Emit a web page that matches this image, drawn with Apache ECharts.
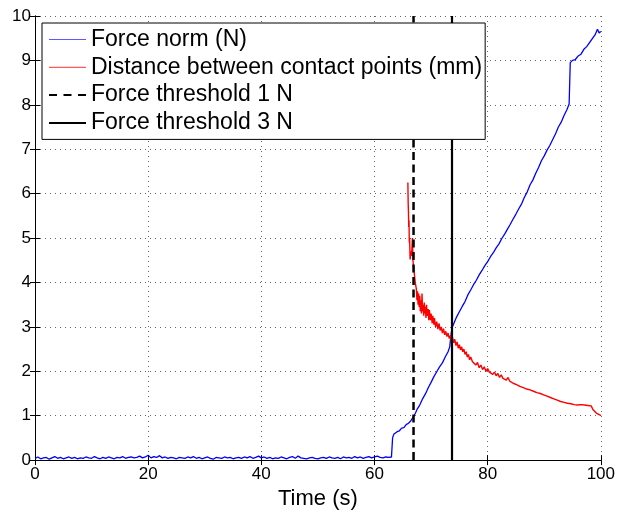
<!DOCTYPE html>
<html>
<head>
<meta charset="utf-8">
<script src="https://cdn.jsdelivr.net/npm/echarts@6/dist/echarts.min.js"></script>
<style>
  html, body { margin: 0; padding: 0; background: #fff; }
  #chart { width: 618px; height: 515px; }
</style>
</head>
<body>
<div id="chart"></div>
<script>
// force norm before contact, one value every 0.5 s (t = 0..62)
var forceFlat = [0.04, 0.07, 0.03, 0.05, 0.06, 0.02, 0.05, 0.08, 0.04, 0.06,
  0.03, 0.05, 0.07, 0.04, 0.06, 0.03, 0.05, 0.04, 0.07, 0.05,
  0.04, 0.08, 0.05, 0.03, 0.06, 0.04, 0.07, 0.05, 0.03, 0.06,
  0.05, 0.08, 0.04, 0.06, 0.07, 0.05, 0.06, 0.09, 0.05, 0.07,
  0.11, 0.05, 0.08, 0.06, 0.1, 0.05, 0.07, 0.04, 0.06, 0.05,
  0.03, 0.06, 0.05, 0.04, 0.07, 0.05, 0.08, 0.04, 0.06, 0.03,
  0.05, 0.07, 0.04, 0.02, 0.06, 0.05, 0.04, 0.07, 0.05, 0.06,
  0.03, 0.05, 0.06, 0.04, 0.07, 0.05, 0.08, 0.04, 0.06, 0.09,
  0.05, 0.07, 0.04, 0.06, 0.03, 0.05, 0.04, 0.07, 0.05, 0.03,
  0.06, 0.08, 0.04, 0.09, 0.05, 0.04, 0.03, 0.05, 0.06, 0.04,
  0.03, 0.05, 0.06, 0.04, 0.07, 0.05, 0.04, 0.06, 0.03, 0.07,
  0.05, 0.06, 0.04, 0.08, 0.05, 0.07, 0.04, 0.06, 0.08, 0.05,
  0.07, 0.09, 0.06, 0.05, 0.07];
var flatStep = 0.5;

// force norm after contact [time, N]
var forceRise = [[62.5, 0.06], [63.0, 0.07], [63.2, 0.5], [63.4, 0.58], [63.7, 0.6], [64.0, 0.64],
  [64.4, 0.66], [64.8, 0.72], [65.2, 0.73], [65.6, 0.8], [66.0, 0.83], [66.4, 0.88], [66.8, 0.96],
  [67.2, 1.05], [67.6, 1.16], [68.0, 1.24], [68.5, 1.38], [69.0, 1.49], [69.5, 1.63], [70.0, 1.75],
  [70.5, 1.88], [71.0, 1.99], [71.5, 2.1], [72.0, 2.19], [72.5, 2.32], [73.0, 2.44], [73.3, 2.55],
  [73.5, 2.8], [73.7, 2.98], [74.0, 3.07], [74.5, 3.22], [75.0, 3.34], [75.5, 3.46], [76.0, 3.57],
  [76.5, 3.72], [77.0, 3.83], [77.5, 3.95], [78.0, 4.05], [78.5, 4.17], [79.0, 4.27], [79.5, 4.38],
  [80.0, 4.47], [80.5, 4.58], [81.0, 4.67], [81.5, 4.78], [82.0, 4.87], [82.5, 4.99], [83.0, 5.09],
  [83.5, 5.2], [84.0, 5.31], [84.5, 5.43], [85.0, 5.54], [85.5, 5.66], [86.0, 5.77], [86.5, 5.92],
  [87.0, 6.04], [87.5, 6.2], [88.0, 6.31], [88.5, 6.46], [89.0, 6.59], [89.5, 6.74], [90.0, 6.85],
  [90.5, 6.98], [91.0, 7.09], [91.5, 7.22], [92.0, 7.35], [92.5, 7.5], [93.0, 7.61], [93.5, 7.76],
  [94.0, 7.89], [94.4, 8.02], [94.6, 8.95], [95.0, 9.0], [95.5, 9.02], [96.0, 9.1], [96.5, 9.14],
  [97.0, 9.25], [97.5, 9.31], [98.0, 9.4], [98.5, 9.49], [99.0, 9.58], [99.4, 9.7], [99.7, 9.62],
  [100, 9.65]];

// distance between contact points [time, mm]
var distance = [[65.9, 6.25], [65.95, 5.8], [66.0, 5.6], [66.05, 5.25], [66.1, 5.4], [66.15, 4.9],
  [66.2, 5.0], [66.3, 4.52], [66.4, 4.7], [66.55, 4.6], [66.7, 5.0], [66.8, 4.5], [66.9, 4.35],
  [67.0, 4.25], [67.2, 4.0], [67.4, 3.85], [67.5, 3.6], [67.6, 3.8], [67.7, 3.5], [67.8, 3.75],
  [67.9, 3.45], [68.0, 3.7], [68.1, 3.35], [68.2, 3.6], [68.3, 3.3], [68.4, 3.75], [68.5, 3.35],
  [68.6, 3.5], [68.7, 3.25], [68.8, 3.55], [68.9, 3.3], [69.0, 3.45], [69.1, 3.2], [69.2, 3.5],
  [69.3, 3.25], [69.5, 3.4], [69.6, 3.15], [69.7, 3.38], [69.9, 3.15], [70.0, 3.3], [70.2, 3.08],
  [70.3, 3.25], [70.5, 3.05], [70.6, 3.2], [70.8, 3.0], [71.0, 3.12], [71.2, 2.95], [71.4, 3.08],
  [71.6, 2.92], [71.8, 3.0], [72.0, 2.86], [72.2, 2.96], [72.4, 2.82], [72.6, 2.9], [72.8, 2.78],
  [73.0, 2.86], [73.2, 2.74], [73.4, 2.8], [73.6, 2.68], [73.8, 2.76], [74.0, 2.64], [74.2, 2.72],
  [74.4, 2.58], [74.6, 2.66], [74.8, 2.52], [75.0, 2.6], [75.2, 2.48], [75.4, 2.55], [75.6, 2.44],
  [75.8, 2.5], [76.0, 2.38], [76.2, 2.44], [76.4, 2.32], [76.6, 2.38], [76.8, 2.26], [77.0, 2.32],
  [77.3, 2.22], [77.6, 2.26], [77.9, 2.14], [78.2, 2.2], [78.5, 2.08], [78.8, 2.14], [79.1, 2.04],
  [79.4, 2.1], [79.7, 2.0], [80.0, 2.06], [80.3, 1.98], [80.6, 2.02], [80.9, 1.93], [81.2, 1.98],
  [81.5, 1.9], [81.8, 1.95], [82.1, 1.86], [82.4, 1.92], [82.7, 1.84], [83.0, 1.88], [83.3, 1.8],
  [83.6, 1.86], [83.9, 1.78], [84.2, 1.8], [84.5, 1.73], [84.8, 1.77], [85.1, 1.7], [85.4, 1.74],
  [85.7, 1.66], [86.0, 1.7], [86.3, 1.63], [86.6, 1.67], [86.9, 1.6], [87.2, 1.64], [87.5, 1.58],
  [87.8, 1.6], [88.1, 1.55], [88.4, 1.58], [88.7, 1.52], [89.0, 1.56], [89.3, 1.5], [89.6, 1.53],
  [89.9, 1.47], [90.2, 1.5], [90.5, 1.44], [90.8, 1.47], [91.1, 1.41], [91.4, 1.44], [91.7, 1.38],
  [92.0, 1.41], [92.3, 1.35], [92.6, 1.38], [92.9, 1.32], [93.2, 1.36], [93.5, 1.3], [93.8, 1.33],
  [94.1, 1.28], [94.4, 1.32], [94.7, 1.27], [95.0, 1.3], [95.3, 1.25], [95.6, 1.29], [95.9, 1.24],
  [96.2, 1.28], [96.5, 1.25], [96.8, 1.29], [97.1, 1.24], [97.4, 1.28], [97.7, 1.23], [98.0, 1.27],
  [98.3, 1.22], [98.6, 1.14], [98.9, 1.1], [99.2, 1.06], [99.5, 1.08], [99.8, 1.02], [100, 1.0]];

// times where force reaches the thresholds
var threshold1 = 66.9;
var threshold3 = 73.7;

var seriesNames = ['Force norm (N)', 'Distance between contact points (mm)',
  'Force threshold 1 N', 'Force threshold 3 N'];

var forceNorm = [];
for (var i = 0; i < forceFlat.length; i++) forceNorm.push([i * flatStep, forceFlat[i]]);
forceNorm = forceNorm.concat(forceRise);

// legend icons: tiny corner dots keep the 37x14 box, the bar is the line sample
var box = 'M0,0h0.01v0.01h-0.01z M36.99,13.99h0.01v0.01h-0.01z ';
var thinIcon = 'path://' + box + 'M0,6.4h37v1.2h-37z';
var solidIcon = 'path://' + box + 'M0,6h37v2h-37z';
var dashIcon = 'path://' + box + 'M0,6h8v2h-8z M14.5,6h8v2h-8z M29,6h8v2h-8z';

var font = 'Liberation Sans, Arial, sans-serif';
var chart = echarts.init(document.getElementById('chart'));

var tick = { show: true, inside: true, length: 5, lineStyle: { color: '#000' } };
var frame = { show: true, lineStyle: { color: '#000', width: 1 } };

chart.setOption({
  animation: false,
  backgroundColor: '#fff',
  grid: { left: 35, right: 17, top: 16, bottom: 53 },
  legend: {
    left: 42, top: 23,
    orient: 'vertical',
    backgroundColor: '#fff',
    borderColor: '#000', borderWidth: 1, borderRadius: 0,
    padding: [5, 3, 5, 7],
    itemWidth: 37, itemHeight: 14, itemGap: 4.8,
    textStyle: { fontFamily: font, fontSize: 23, color: '#000', lineHeight: 22 },
    data: [
      { name: seriesNames[0], icon: thinIcon, itemStyle: { color: '#5a5aff' } },
      { name: seriesNames[1], icon: thinIcon, itemStyle: { color: '#ff5a5a' } },
      { name: seriesNames[2], icon: dashIcon, itemStyle: { color: '#000' } },
      { name: seriesNames[3], icon: solidIcon, itemStyle: { color: '#000' } }
    ]
  },
  xAxis: [{
    type: 'value', min: 0, max: 100, interval: 20,
    name: 'Time (s)', nameLocation: 'middle', nameGap: 24,
    nameTextStyle: { fontFamily: font, fontSize: 22, color: '#000' },
    axisLine: frame, axisTick: tick,
    axisLabel: { fontFamily: font, fontSize: 17, color: '#000', margin: 6 },
    splitLine: { show: true, lineStyle: { color: '#666', type: [1, 4], width: 1 } }
  }, {
    type: 'value', min: 0, max: 100, interval: 20, position: 'top',
    axisLine: frame, axisTick: tick, axisLabel: { show: false }, splitLine: { show: false }
  }],
  yAxis: [{
    type: 'value', min: 0, max: 10, interval: 1,
    axisLine: frame, axisTick: tick,
    axisLabel: { fontFamily: font, fontSize: 17, color: '#000', margin: 4 },
    splitLine: { show: true, lineStyle: { color: '#666', type: [1, 4], width: 1 } }
  }, {
    type: 'value', min: 0, max: 10, interval: 1, position: 'right',
    axisLine: frame, axisTick: tick, axisLabel: { show: false }, splitLine: { show: false }
  }],
  series: [{
    name: seriesNames[0], type: 'line', symbol: 'none',
    data: forceNorm,
    lineStyle: { color: '#0000ff', width: 1.3 }, itemStyle: { color: '#0000ff' }
  }, {
    name: seriesNames[1], type: 'line', symbol: 'none',
    data: distance,
    lineStyle: { color: '#ff0000', width: 1.4 }, itemStyle: { color: '#ff0000' }
  }, {
    name: seriesNames[2], type: 'line', symbol: 'none',
    data: [[threshold1, 0], [threshold1, 10]],
    lineStyle: { color: '#000', width: 2.5, type: [8, 4.5] }, itemStyle: { color: '#000' }
  }, {
    name: seriesNames[3], type: 'line', symbol: 'none',
    data: [[threshold3, 0], [threshold3, 10]],
    lineStyle: { color: '#000', width: 2.2 }, itemStyle: { color: '#000' }
  }]
});
</script>
</body>
</html>
